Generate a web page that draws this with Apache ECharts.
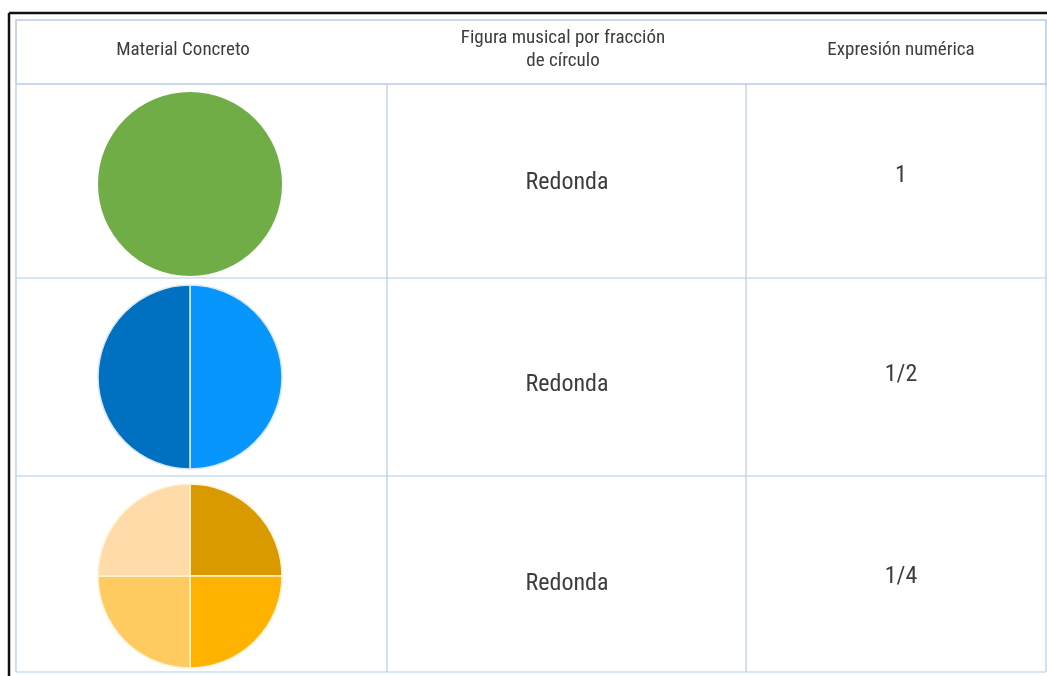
<!DOCTYPE html>
<html>
<head>
<meta charset="utf-8">
<style>
  html, body { margin: 0; padding: 0; background: #fff; }
  #chart { width: 1047px; height: 676px; }
</style>
<script src="https://cdn.jsdelivr.net/npm/echarts@6/dist/echarts.min.js"></script>
</head>
<body>
<div id="chart"></div>
<script>
// table content
const headers = ['Material Concreto', 'Figura musical por fracción\nde círculo', 'Expresión numérica'];
const figures = ['Redonda', 'Redonda', 'Redonda'];
const expressions = ['1', '1/2', '1/4'];

// each row's circle split into equal parts
const wholeParts = [1];
const halfParts = [1, 1];
const quarterParts = [1, 1, 1, 1];
const partsByRow = [wholeParts, halfParts, quarterParts];

// slice colours, clockwise from 12 o'clock
const rowColors = [
  ['#70ad47'],
  ['#0796fb', '#0070c0'],
  ['#d99a00', '#ffb300', '#ffca60', '#fedba8']
];
const sliceBorders = ['#70ad47', '#d9e6f2', '#fff2d4'];

const font = '"Liberation Sans Narrow", "Roboto Condensed", "DejaVu Sans Condensed", sans-serif';
const lineColor = '#b4cce4';

// layout
const colX = [16, 387, 746, 1046];
const rowY = [84, 278, 476, 672];
const headTop = 20;
const radius = 92;
const pieCY = [184, 377, 576];
const figY = [183, 385, 584];
const exprY = [176, 375, 577];

const chart = echarts.init(document.getElementById('chart'));

const series = partsByRow.map((parts, r) => ({
  type: 'pie',
  radius: radius,
  center: [190, pieCY[r]],
  startAngle: 90,
  clockwise: true,
  silent: true,
  label: { show: false },
  labelLine: { show: false },
  itemStyle: {
    borderColor: sliceBorders[r],
    borderWidth: parts.length > 1 ? 1.5 : 0
  },
  data: parts.map((v, i) => ({ value: v, itemStyle: { color: rowColors[r][i] } }))
}));

const graphics = [];
// outer black frame (top and left)
graphics.push({ type: 'line', shape: { x1: 9, y1: 13, x2: 1047, y2: 13 }, style: { stroke: '#111', lineWidth: 2.5 } });
graphics.push({ type: 'line', shape: { x1: 9, y1: 13, x2: 9, y2: 676 }, style: { stroke: '#111', lineWidth: 2.5 } });
// header box
graphics.push({ type: 'rect', shape: { x: colX[0], y: headTop, width: colX[3] - colX[0], height: rowY[0] - headTop },
  style: { fill: '#fff', stroke: lineColor, lineWidth: 1.5 } });
// body lines
rowY.slice(1).forEach(y => {
  graphics.push({ type: 'line', shape: { x1: colX[0], y1: y, x2: colX[3], y2: y }, style: { stroke: lineColor, lineWidth: 1.2 } });
});
graphics.push({ type: 'line', shape: { x1: colX[0], y1: rowY[0], x2: colX[0], y2: rowY[3] }, style: { stroke: lineColor, lineWidth: 1.2 } });
graphics.push({ type: 'line', shape: { x1: colX[3], y1: rowY[0], x2: colX[3], y2: rowY[3] }, style: { stroke: lineColor, lineWidth: 1.2 } });
[colX[1], colX[2]].forEach(x => {
  graphics.push({ type: 'line', shape: { x1: x, y1: rowY[0], x2: x, y2: rowY[3] }, style: { stroke: lineColor, lineWidth: 1.2 } });
});
// header texts
const headCenters = [183, 563, 901];
headers.forEach((h, i) => {
  graphics.push({ type: 'text', x: headCenters[i], y: (headTop + rowY[0]) / 2 - 2,
    style: { text: h, font: '19px ' + font, fill: '#3d3d3d', align: 'center', verticalAlign: 'middle', lineHeight: 23 } });
});
// body texts
figures.forEach((f, r) => {
  graphics.push({ type: 'text', x: 567, y: figY[r],
    style: { text: f, font: '24px ' + font, fill: '#3d3d3d', align: 'center', verticalAlign: 'middle' } });
  graphics.push({ type: 'text', x: 901, y: exprY[r],
    style: { text: expressions[r], font: '24px ' + font, fill: '#3d3d3d', align: 'center', verticalAlign: 'middle' } });
});

chart.setOption({
  animation: false,
  backgroundColor: '#fff',
  graphic: graphics,
  series: series
});
</script>
</body>
</html>
